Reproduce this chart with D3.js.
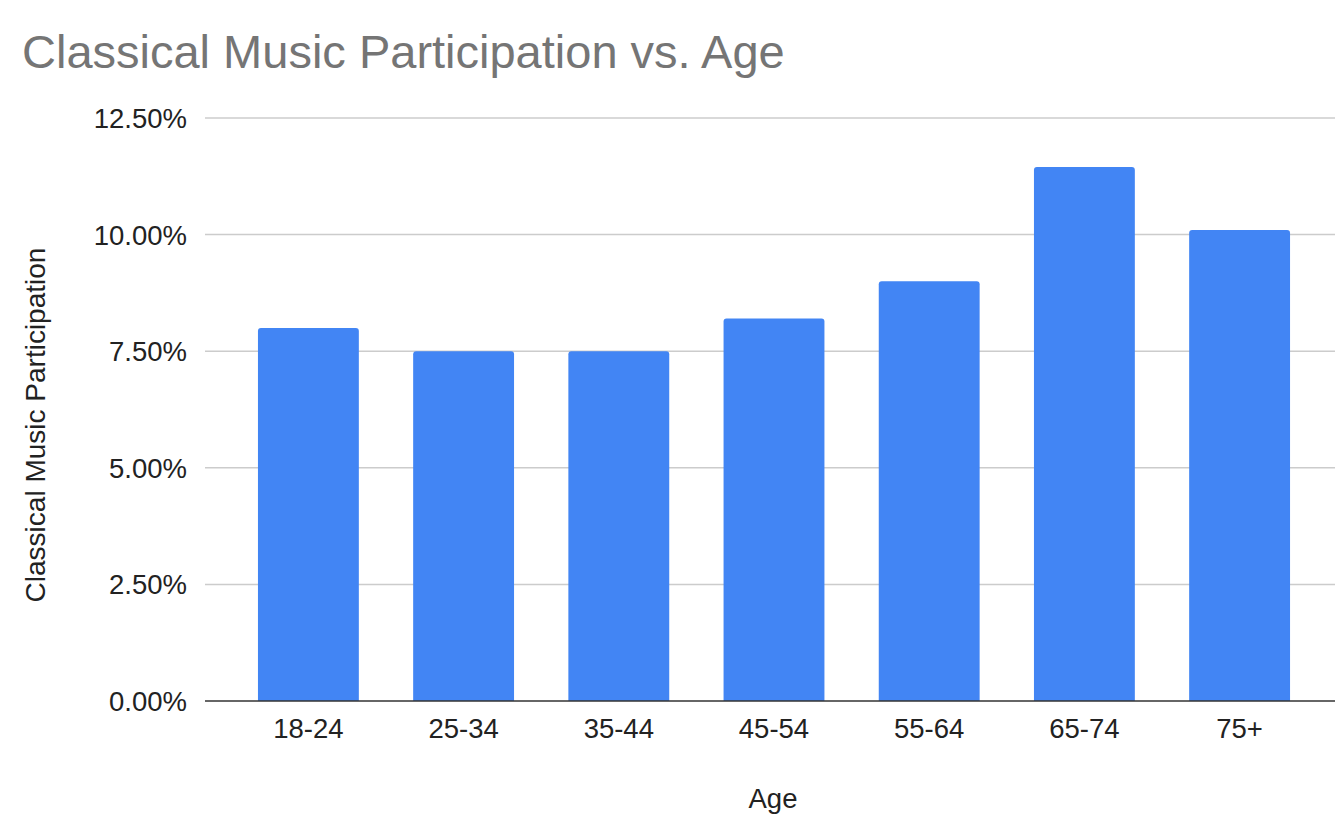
<!DOCTYPE html>
<html><head><meta charset="utf-8">
<script src="https://cdn.jsdelivr.net/npm/d3@7"></script>
<style>body{margin:0;background:#fff;}svg{display:block;font-family:"Liberation Sans",Arial,sans-serif;}</style>
</head><body>
<svg id="c" width="1335" height="817"></svg>
<script>
const categories = ["18-24","25-34","35-44","45-54","55-64","65-74","75+"];
const values = [8.0, 7.5, 7.5, 8.2, 9.0, 11.45, 10.1];
const yTicks = [0, 2.5, 5, 7.5, 10, 12.5];
const title = "Classical Music Participation vs. Age";
const xTitle = "Age";
const yTitle = "Classical Music Participation";

const svg = d3.select("#c");
const plotL = 205, plotR = 1335, plotT = 118, plotB = 701;

const x = d3.scaleBand().domain(categories).range([230.8, 1317.2]).paddingInner(0.35).paddingOuter(0.175);
const y = d3.scaleLinear().domain([0, 12.5]).range([plotB, plotT]);

// gridlines
svg.append("g").selectAll("line").data(yTicks.filter(d => d > 0)).join("line")
  .attr("x1", plotL).attr("x2", plotR)
  .attr("y1", d => y(d)).attr("y2", d => y(d))
  .attr("stroke", "#cccccc").attr("stroke-width", 1.5);

// y labels
svg.append("g").selectAll("text").data(yTicks).join("text")
  .attr("x", 187).attr("y", d => y(d) + 10)
  .attr("text-anchor", "end").attr("font-size", 27.5).attr("fill", "#222")
  .text(d => d.toFixed(2) + "%");

// bars with rounded top corners
const r = 3;
svg.append("g").selectAll("path").data(values).join("path")
  .attr("fill", "#4285f4")
  .attr("d", (d, i) => {
    const x0 = x(categories[i]), w = x.bandwidth(), yt = y(d), yb = y(0);
    return `M${x0},${yb}V${yt + r}Q${x0},${yt} ${x0 + r},${yt}H${x0 + w - r}Q${x0 + w},${yt} ${x0 + w},${yt + r}V${yb}Z`;
  });

// baseline
svg.append("line").attr("x1", plotL).attr("x2", plotR).attr("y1", plotB).attr("y2", plotB)
  .attr("stroke", "#333").attr("stroke-width", 1.5);

// x labels
svg.append("g").selectAll("text").data(categories).join("text")
  .attr("x", d => x(d) + x.bandwidth() / 2).attr("y", 738)
  .attr("text-anchor", "middle").attr("font-size", 27.5).attr("fill", "#222")
  .text(d => d);

// titles
svg.append("text").attr("x", 22).attr("y", 68).attr("font-size", 47).attr("fill", "#757575").text(title);
svg.append("text").attr("x", 773).attr("y", 808).attr("text-anchor", "middle").attr("font-size", 27.5).attr("fill", "#222").text(xTitle);
svg.append("text").attr("transform", "translate(45,425) rotate(-90)").attr("text-anchor", "middle")
  .attr("font-size", 28).attr("fill", "#222").text(yTitle);
</script>
</body></html>
